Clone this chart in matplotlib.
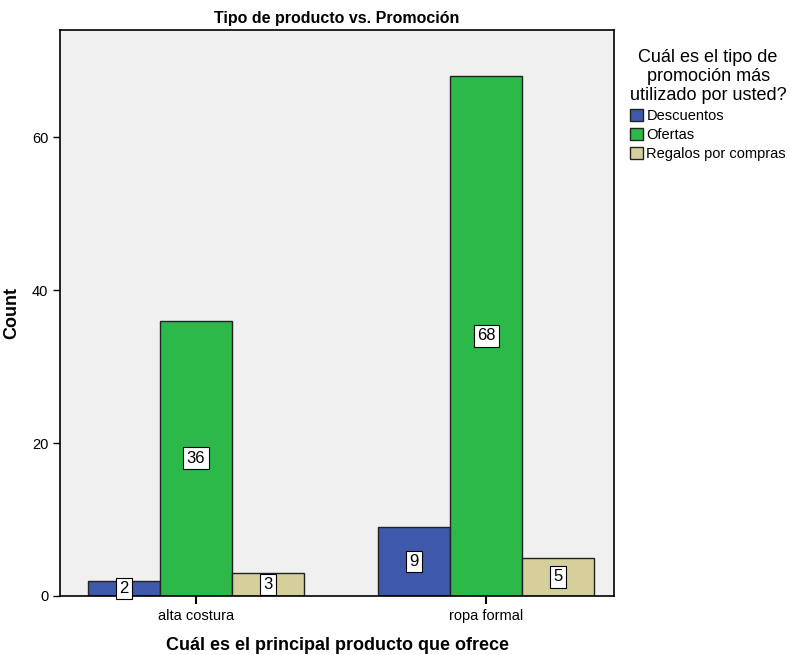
import matplotlib.pyplot as plt
import numpy as np

plt.rcParams['font.family'] = ['Liberation Sans', 'DejaVu Sans']

# data
categories = ['alta costura', 'ropa formal']
series = ['Descuentos', 'Ofertas', 'Regalos por compras']
descuentos = [2, 9]
ofertas = [36, 68]
regalos = [3, 5]
colors = ['#3e58ac', '#2db84a', '#d4cf9b']

fig = plt.figure(figsize=(8.02, 6.55), dpi=100)
ax = fig.add_axes([0.0748, 0.0901, 0.6908, 0.8641])
ax.set_facecolor('#f0f0f0')

x = np.arange(len(categories))
width = 0.248
for i, (name, vals) in enumerate(zip(series, [descuentos, ofertas, regalos])):
    pos = x + (i - 1) * width
    ax.bar(pos, vals, width, color=colors[i], edgecolor='#222222',
           linewidth=1.0, label=name, zorder=2)
    # value boxes in the middle of each bar
    for p, v in zip(pos, vals):
        ax.text(p, v / 2, str(v), ha='center', va='center', fontsize=12,
                zorder=3,
                bbox=dict(boxstyle='square,pad=0.2', fc='white', ec='black', lw=0.8))

ax.set_xlim(-0.469, 1.441)
ax.set_ylim(0, 74)
ax.set_xticks(x)
ax.set_xticklabels(categories, fontsize=10.5)
ax.set_yticks([0, 20, 40, 60])
ax.tick_params(axis='y', labelsize=10.5, length=5, width=1)
ax.tick_params(axis='x', length=6, width=1.5)
for s in ax.spines.values():
    s.set_linewidth(1.2)

ax.set_title('Tipo de producto vs. Promoción', fontsize=11.5, fontweight='bold', pad=5)
ax.set_xlabel('Cuál es el principal producto que ofrece', fontsize=13,
              fontweight='bold', labelpad=10)
ax.set_ylabel('Count', fontsize=13, fontweight='bold', labelpad=8)

leg = ax.legend(loc='upper left', bbox_to_anchor=(1.01, 0.985), frameon=False,
                title='Cuál es el tipo de\npromoción más\nutilizado por usted?',
                fontsize=10.5, title_fontsize=13, handlelength=0.9,
                handleheight=0.9, handletextpad=0.2, labelspacing=0.35,
                borderaxespad=0.3)
leg.get_title().set_multialignment('center')
leg.get_title().set_linespacing(1.15)
for h in leg.legend_handles:
    h.set_edgecolor('#222222')

fig.savefig('out.png', dpi=100)
